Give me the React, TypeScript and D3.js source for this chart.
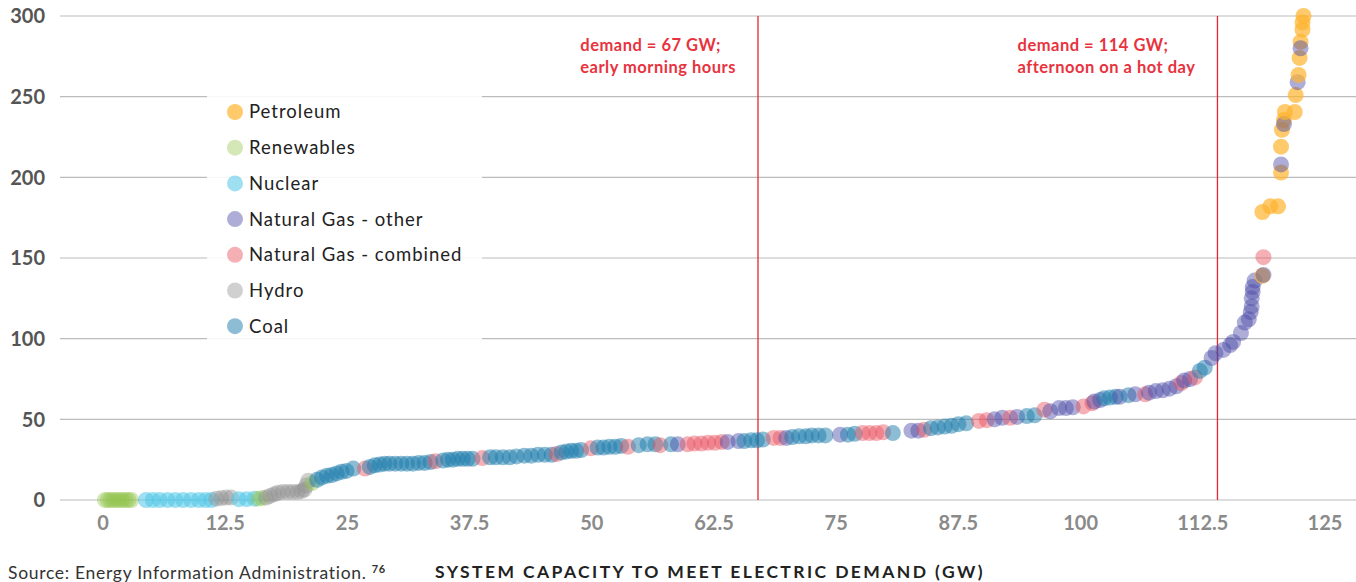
import { useEffect, useRef } from 'react';
import * as d3 from 'd3';

// [capacity GW, cost], per fuel
const petroleum = [
  [118.6, 139], [118.6, 178.5], [119.4, 182], [120.2, 182], [120.5, 203], [120.5, 219],
  [120.6, 229.5], [120.8, 235.5], [120.9, 240.5], [121.9, 240.5], [122.0, 251],
  [122.3, 263.5], [122.4, 274], [122.5, 284], [122.7, 291.5], [122.7, 296], [122.8, 300],
];
const renewables = [
  [0.2, 0], [0.5, 0], [0.8, 0], [1.1, 0], [1.4, 0], [1.7, 0], [2.0, 0], [2.3, 0], [2.6, 0],
  [2.9, 0], [15.9, 0.8], [16.3, 1.2], [21.4, 10.5],
];
const nuclear = [
  [4.4, 0], [5.1, 0], [5.8, 0], [6.6, 0], [7.4, 0], [8.2, 0], [9.0, 0], [9.8, 0], [10.5, 0],
  [11.1, 0], [13.9, 0.5], [14.7, 0.5], [15.5, 0.8],
];
const hydro = [
  [11.6, 0.8], [12.1, 1.2], [12.6, 1.5], [13.1, 1.5], [16.7, 1.5], [17.1, 2.5], [17.5, 3.5],
  [17.9, 4.5], [18.4, 5], [18.9, 5], [19.4, 5], [19.9, 5], [20.3, 5.5], [20.6, 6.5],
  [20.8, 9], [21.0, 12],
];
const coal = [
  [21.9, 12.5], [22.4, 14], [22.9, 15], [23.4, 15.5], [23.9, 16.5], [24.4, 17.5], [24.9, 18],
  [25.6, 19.5], [27.3, 20.5], [27.8, 21.5], [28.3, 22], [28.8, 22.5], [29.3, 22.5],
  [29.9, 22.5], [30.5, 22.5], [31.1, 22.5], [31.7, 22.5], [32.3, 23], [32.9, 23],
  [33.5, 23.5], [34.8, 24.5], [35.3, 25], [35.8, 25], [36.3, 25.5], [36.8, 25.5],
  [37.3, 25.5], [37.8, 25.5], [39.6, 26.5], [40.2, 26.5], [40.9, 26.5], [41.6, 26.5],
  [42.3, 27], [43.1, 27.5], [43.8, 27.5], [44.5, 28], [45.2, 28], [45.9, 28], [46.9, 29.5],
  [47.4, 30], [47.9, 30.5], [48.4, 30.5], [48.9, 31], [50.6, 32.5], [51.2, 32.5], [51.8, 33],
  [52.4, 33], [53.0, 33.5], [54.8, 34], [55.7, 34.5], [56.5, 34.5], [58.1, 34.5],
  [65.6, 36.5], [66.3, 37], [66.9, 37], [67.5, 37.5], [70.5, 39], [71.2, 39.5], [71.9, 39.5],
  [72.5, 40], [73.2, 40], [73.9, 40], [76.2, 40.5], [76.9, 41], [80.8, 41.5], [84.7, 44.5],
  [85.4, 45], [86.1, 45.5], [86.8, 46], [87.5, 47], [88.3, 47.5], [94.5, 52], [95.3, 52.5],
  [102.4, 63], [103.0, 63.5], [103.6, 64], [104.9, 65], [112.2, 80], [112.7, 82],
];
const gasCombined = [
  [26.8, 19.5], [34.0, 24], [38.8, 26], [46.4, 28.5], [49.9, 32], [53.7, 33], [57.0, 34],
  [59.8, 34.5], [60.5, 35], [61.2, 35], [61.9, 35.5], [62.6, 35.5], [63.3, 36], [68.6, 38.5],
  [69.3, 38.5], [77.7, 41.5], [78.4, 41.5], [79.1, 41.5], [79.8, 42], [84.0, 43.5],
  [89.6, 49], [90.4, 49.5], [92.8, 51], [96.3, 56], [100.3, 58], [101.2, 60], [106.6, 65.5],
  [110.3, 72.5], [111.7, 76], [118.7, 150.5],
];
const gasOther = [
  [58.8, 34.5], [63.9, 36], [65.0, 36.5], [69.9, 38.5], [75.4, 40.5], [82.7, 43], [83.4, 43],
  [91.2, 50], [92.0, 51], [93.5, 51.5], [96.9, 55], [97.8, 57], [98.5, 57], [99.2, 57.5],
  [101.4, 61], [102.0, 62], [104.0, 64], [105.6, 65.5], [107.0, 66.5], [107.7, 67.5],
  [108.4, 68], [109.1, 69], [109.8, 70.5], [110.6, 74], [111.2, 75], [113.4, 88],
  [113.8, 91], [114.6, 93], [115.3, 96], [115.6, 98], [116.4, 103.5], [116.8, 110],
  [117.2, 112], [117.4, 116.5], [117.5, 120], [117.5, 125], [117.6, 129], [117.6, 132],
  [117.8, 136], [118.7, 139.5], [120.5, 208], [120.8, 233], [122.2, 259], [122.5, 280],
];

const categories = [
  'Petroleum', 'Renewables', 'Nuclear', 'Natural Gas - other', 'Natural Gas - combined',
  'Hydro', 'Coal',
];
const seriesData = [petroleum, renewables, nuclear, gasOther, gasCombined, hydro, coal];

const xTicks = [0, 12.5, 25, 37.5, 50, 62.5, 75, 87.5, 100, 112.5, 125];
const yTicks = [0, 50, 100, 150, 200, 250, 300];
const demands = [
  { gw: 67, lines: ['demand = 67 GW;', 'early morning hours'] },
  { gw: 114, lines: ['demand = 114 GW;', 'afternoon on a hot day'] },
];

const styles: Record<string, { fill: string; op: number }> = {
  Petroleum: { fill: '#fdb42d', op: 0.7 },
  Renewables: { fill: '#92c24a', op: 0.4 },
  Nuclear: { fill: '#4fc6e8', op: 0.55 },
  'Natural Gas - other': { fill: '#4a4aa6', op: 0.45 },
  'Natural Gas - combined': { fill: '#e8505e', op: 0.45 },
  Hydro: { fill: '#8e8e8e', op: 0.42 },
  Coal: { fill: '#1b7cac', op: 0.5 },
};

const W = 1356;
const H = 582;
const FONT = 'Lato, "Open Sans", sans-serif';

export default function App() {
  const svgRef = useRef<SVGSVGElement>(null);

  useEffect(() => {
    const svg = d3.select(svgRef.current);
    svg.selectAll('*').remove();

    const x = d3.scaleLinear().domain([0, 125]).range([103, 1325]);
    const y = d3.scaleLinear().domain([0, 300]).range([500, 16]);

    // grid
    svg
      .append('g')
      .selectAll('line')
      .data(yTicks)
      .join('line')
      .attr('x1', 60)
      .attr('x2', W)
      .attr('y1', d => y(d))
      .attr('y2', d => y(d))
      .attr('stroke', '#bcbcbc')
      .attr('stroke-width', 1.2);

    svg
      .append('g')
      .selectAll('text')
      .data(yTicks)
      .join('text')
      .attr('x', 45)
      .attr('y', d => y(d))
      .attr('dy', '0.36em')
      .attr('text-anchor', 'end')
      .attr('font-family', FONT)
      .attr('font-weight', 700)
      .attr('font-size', 20)
      .attr('fill', '#555')
      .text(d => d);

    svg
      .append('g')
      .selectAll('text')
      .data(xTicks)
      .join('text')
      .attr('x', d => x(d))
      .attr('y', 530)
      .attr('text-anchor', 'middle')
      .attr('font-family', FONT)
      .attr('font-weight', 700)
      .attr('font-size', 20)
      .attr('fill', '#8a8a8a')
      .text(d => d);

    // demand lines, note block sits left of its line
    demands.forEach(dm => {
      const px = x(dm.gw);
      svg
        .append('line')
        .attr('x1', px)
        .attr('x2', px)
        .attr('y1', y(300))
        .attr('y2', y(0))
        .attr('stroke', '#e32630')
        .attr('stroke-width', 1.3);
      const t = svg
        .append('text')
        .attr('font-family', FONT)
        .attr('font-weight', 700)
        .attr('font-size', 16.5)
        .attr('letter-spacing', 0.5)
        .attr('fill', '#e8333e');
      dm.lines.forEach((l, i) => {
        t.append('tspan').attr('x', 0).attr('y', 51 + i * 22).text(l);
      });
      const w = (t.node() as SVGTextElement).getBBox().width;
      t.selectAll('tspan').attr('x', px - 22 - w);
    });

    // points, drawn in order of capacity
    const points = seriesData
      .flatMap((arr, i) => arr.map(([gx, gy]) => ({ gx, gy, cat: categories[i] })))
      .sort((a, b) => a.gx - b.gx);

    svg
      .append('g')
      .selectAll('circle')
      .data(points)
      .join('circle')
      .attr('cx', d => x(d.gx))
      .attr('cy', d => y(d.gy))
      .attr('r', 8)
      .attr('fill', d => styles[d.cat].fill)
      .attr('fill-opacity', d => styles[d.cat].op);

    // legend
    const lg = svg.append('g');
    lg.append('rect')
      .attr('x', 207)
      .attr('y', 86)
      .attr('width', 275)
      .attr('height', 260)
      .attr('fill', '#fff')
      .attr('fill-opacity', 0.88);
    const items = lg
      .selectAll('g.item')
      .data(categories)
      .join('g')
      .attr('class', 'item')
      .attr('transform', (_, i) => `translate(235,${112 + i * 35.7})`);
    items
      .append('circle')
      .attr('r', 8)
      .attr('fill', d => styles[d].fill)
      .attr('fill-opacity', d => styles[d].op);
    items
      .append('text')
      .attr('x', 14)
      .attr('dy', '0.35em')
      .attr('font-family', FONT)
      .attr('font-size', 18.5)
      .attr('letter-spacing', 1)
      .attr('fill', '#222')
      .text(d => d);

    // footer
    const src = svg
      .append('text')
      .attr('x', 8)
      .attr('y', 579)
      .attr('font-family', FONT)
      .attr('font-size', 17.5)
      .attr('letter-spacing', 0.7)
      .attr('fill', '#333');
    src.append('tspan').text('Source: Energy Information Administration. ');
    src.append('tspan').attr('font-size', 11).attr('dy', -6).attr('font-weight', 700).text('76');

    svg
      .append('text')
      .attr('x', 710)
      .attr('y', 578)
      .attr('text-anchor', 'middle')
      .attr('font-family', FONT)
      .attr('font-weight', 700)
      .attr('font-size', 17.5)
      .attr('letter-spacing', 2.4)
      .attr('fill', '#222')
      .text('SYSTEM CAPACITY TO MEET ELECTRIC DEMAND (GW)');
  }, []);

  return (
    <div style={{ position: 'absolute', left: 0, top: 0 }}>
      <svg ref={svgRef} width={W} height={H} style={{ display: 'block' }} />
    </div>
  );
}
